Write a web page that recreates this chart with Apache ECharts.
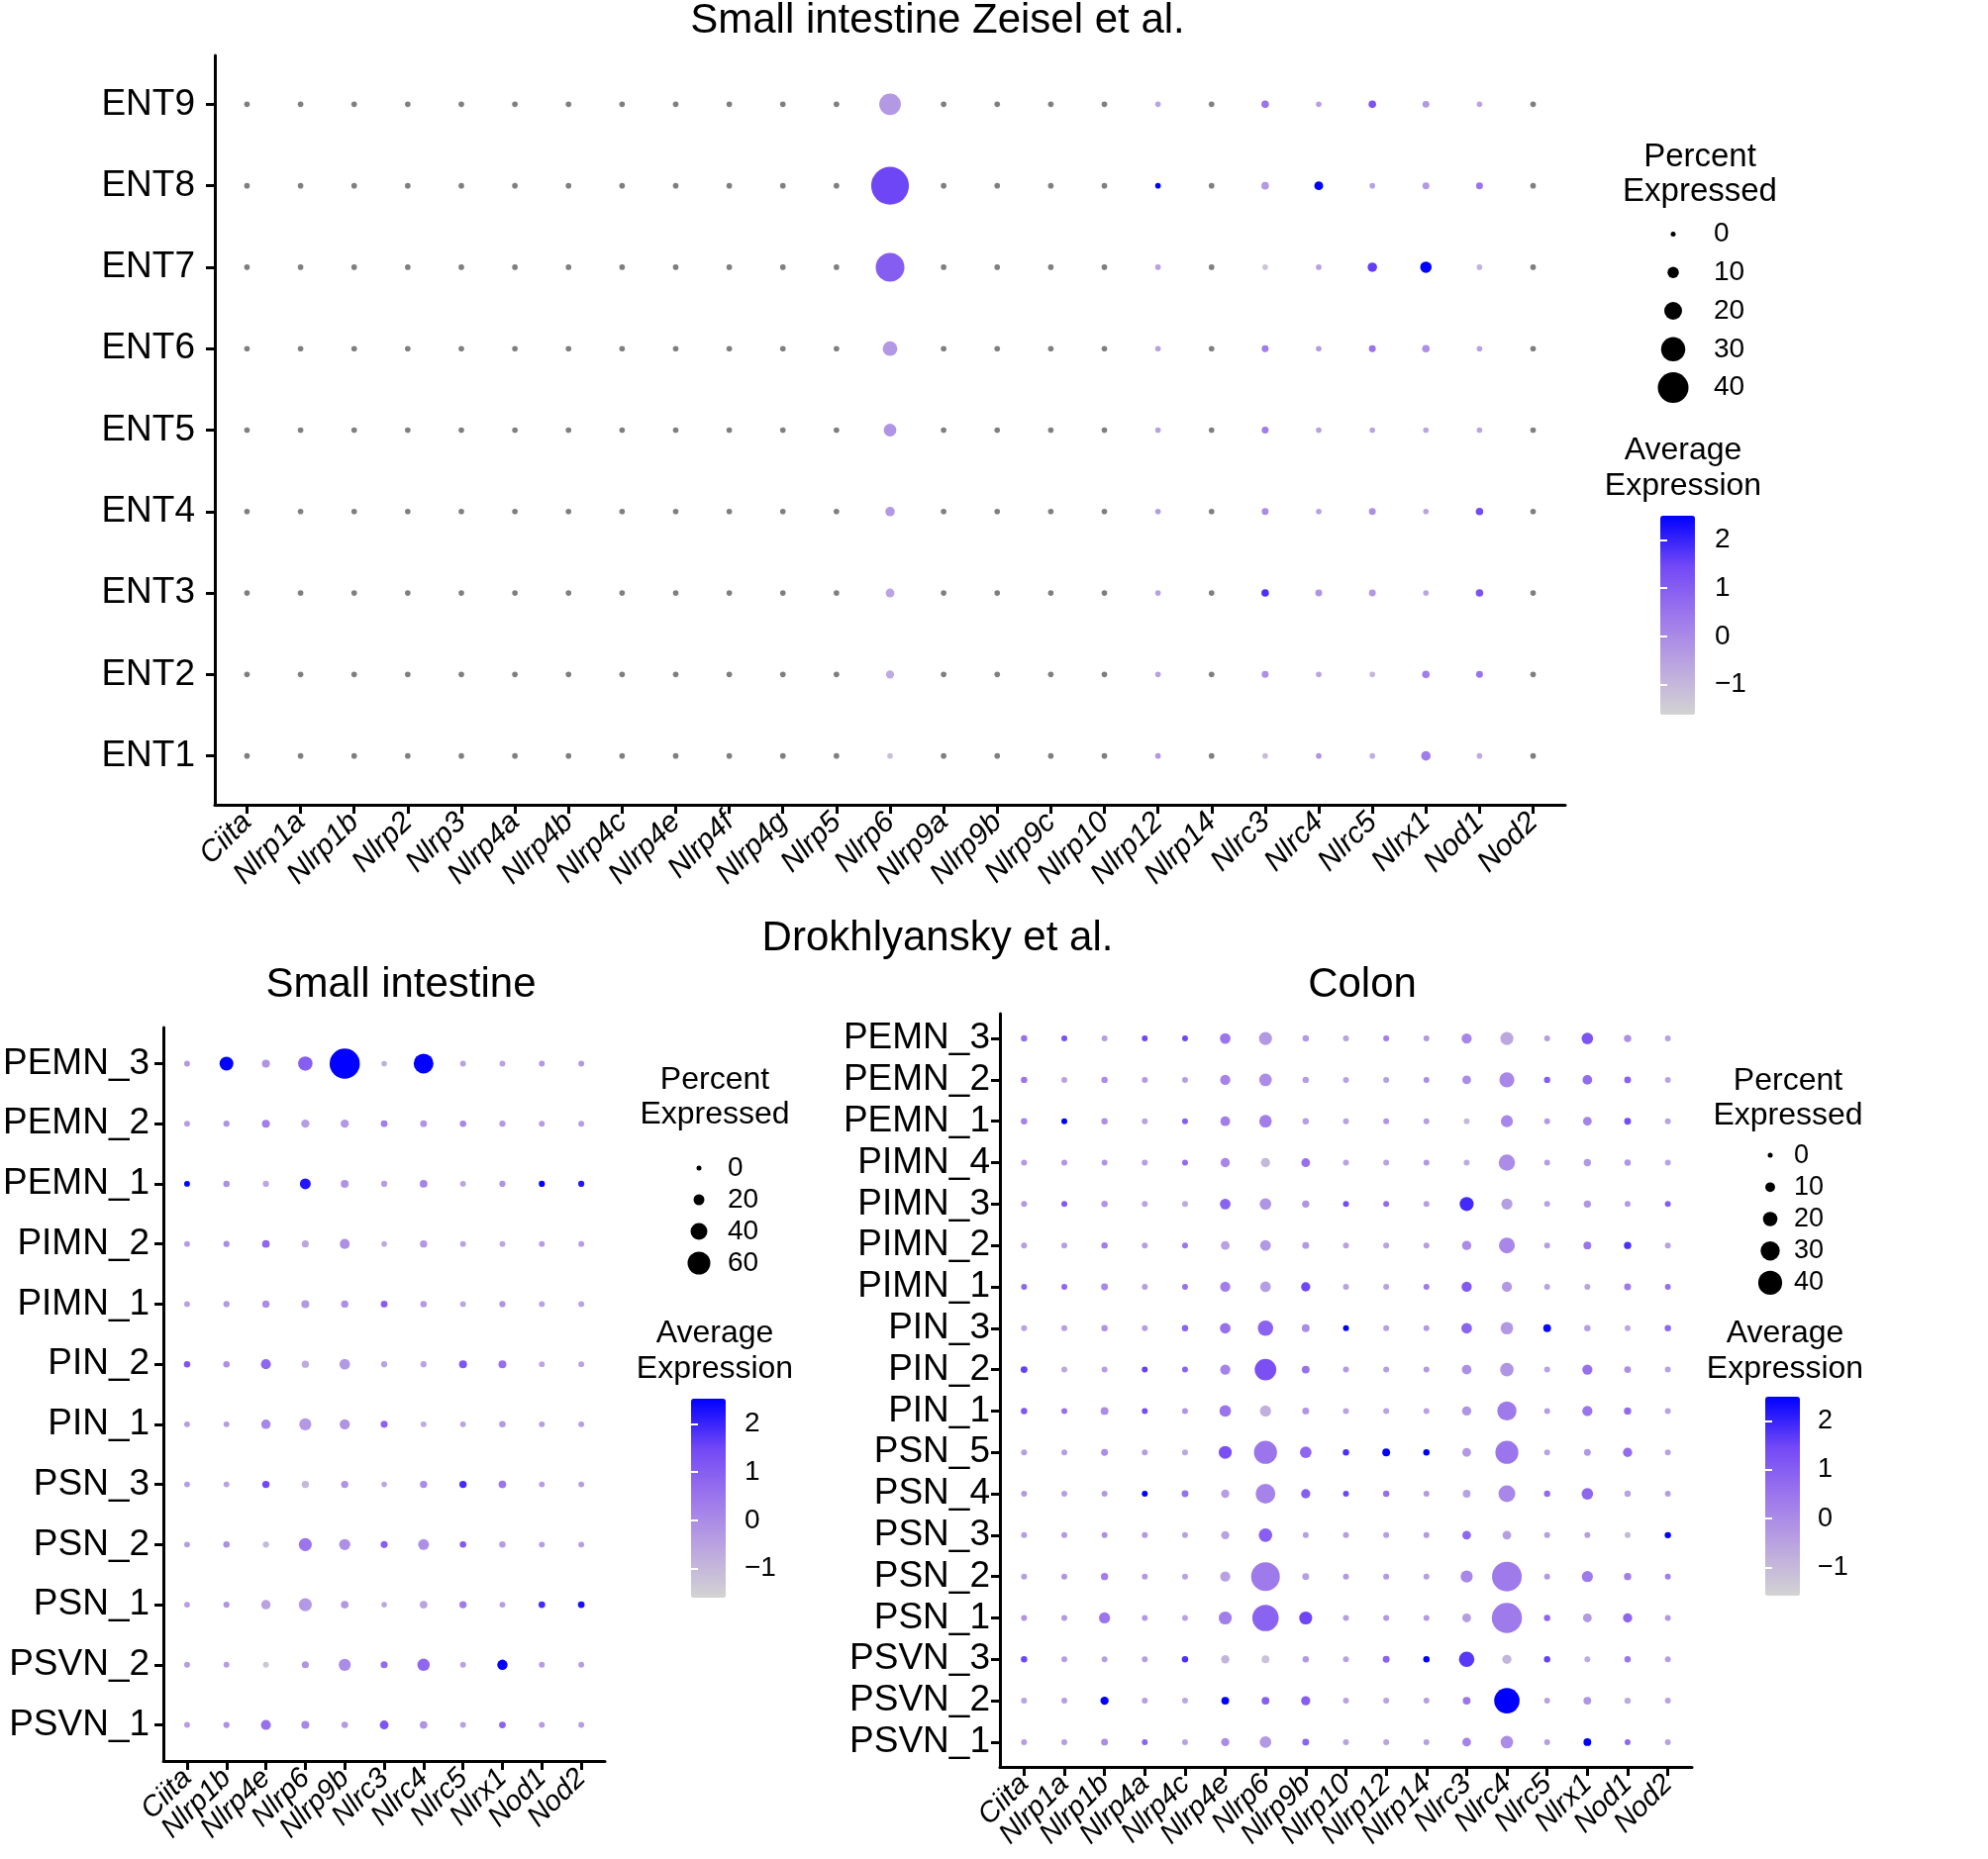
<!DOCTYPE html>
<html>
<head>
<meta charset="utf-8">
<title>NLR expression dot plots</title>
<script src="https://cdn.jsdelivr.net/npm/echarts@6/dist/echarts.min.js"></script>
<style>
  html, body { margin: 0; padding: 0; background: #fff; }
  #chart { width: 2008px; height: 1878px; }
</style>
</head>
<body>
<div id="chart"></div>
<script>
const N = null; // gene not detected -> grey dot

// ---- Zeisel et al. small intestine ----
const zeiselGenes = ["Ciita", "Nlrp1a", "Nlrp1b", "Nlrp2", "Nlrp3", "Nlrp4a", "Nlrp4b", "Nlrp4c", "Nlrp4e", "Nlrp4f",
    "Nlrp4g", "Nlrp5", "Nlrp6", "Nlrp9a", "Nlrp9b", "Nlrp9c", "Nlrp10", "Nlrp12", "Nlrp14", "Nlrc3", "Nlrc4", "Nlrc5",
    "Nlrx1", "Nod1", "Nod2"];
const zeiselRows = ["ENT9", "ENT8", "ENT7", "ENT6", "ENT5", "ENT4", "ENT3", "ENT2", "ENT1"];
const zeiselPct = [
    [1, 1, 1, 1, 1, 1, 1, 1, 1, 1, 1, 1, 26, 1, 1, 1, 1, 1, 1, 4, 1, 4, 3, 1, 1],
    [1, 1, 1, 1, 1, 1, 1, 1, 1, 1, 1, 1, 51, 1, 1, 1, 1, 1, 1, 4, 6, 1, 3, 3, 1],
    [1, 1, 1, 1, 1, 1, 1, 1, 1, 1, 1, 1, 37, 1, 1, 1, 1, 1, 1, 1, 1, 7, 10, 1, 1],
    [1, 1, 1, 1, 1, 1, 1, 1, 1, 1, 1, 1, 15, 1, 1, 1, 1, 1, 1, 3, 1, 3, 4, 1, 1],
    [1, 1, 1, 1, 1, 1, 1, 1, 1, 1, 1, 1, 12, 1, 1, 1, 1, 1, 1, 3, 1, 1, 1, 1, 1],
    [1, 1, 1, 1, 1, 1, 1, 1, 1, 1, 1, 1, 7, 1, 1, 1, 1, 1, 1, 3, 1, 3, 1, 4, 1],
    [1, 1, 1, 1, 1, 1, 1, 1, 1, 1, 1, 1, 6, 1, 1, 1, 1, 1, 1, 4, 3, 3, 1, 4, 1],
    [1, 1, 1, 1, 1, 1, 1, 1, 1, 1, 1, 1, 5, 1, 1, 1, 1, 1, 1, 3, 1, 1, 4, 3, 1],
    [1, 1, 1, 1, 1, 1, 1, 1, 1, 1, 1, 1, 1, 1, 1, 1, 1, 1, 1, 1, 1, 1, 7, 1, 1]
];
const zeiselAvg = [
    [N, N, N, N, N, N, N, N, N, N, N, N, -0.3, N, N, N, N, -0.6, N, 0.5, -0.5, 1.2, -0.3, -0.6, N],
    [N, N, N, N, N, N, N, N, N, N, N, N, 1.5, N, N, N, N, 2.5, N, -0.3, 2.5, -0.5, -0.3, 0.5, N],
    [N, N, N, N, N, N, N, N, N, N, N, N, 1.0, N, N, N, N, -0.5, N, -1.3, -0.5, 1.6, 2.5, -0.9, N],
    [N, N, N, N, N, N, N, N, N, N, N, N, -0.3, N, N, N, N, -0.5, N, 0.3, -0.4, 0.5, -0.1, -0.5, N],
    [N, N, N, N, N, N, N, N, N, N, N, N, -0.2, N, N, N, N, -0.5, N, 0.3, -0.5, -0.6, -0.6, -0.6, N],
    [N, N, N, N, N, N, N, N, N, N, N, N, -0.3, N, N, N, N, -0.4, N, 0.0, -0.5, -0.1, -0.6, 1.4, N],
    [N, N, N, N, N, N, N, N, N, N, N, N, -0.6, N, N, N, N, -0.5, N, 1.8, -0.2, -0.3, -0.6, 1.2, N],
    [N, N, N, N, N, N, N, N, N, N, N, N, -0.7, N, N, N, N, -0.5, N, -0.1, -0.6, -1.0, 0.3, 0.5, N],
    [N, N, N, N, N, N, N, N, N, N, N, N, -1.2, N, N, N, N, -0.3, N, -1.1, -0.2, -0.8, 0.3, -0.7, N]
];
const zeiselSizeBreaks = [0, 10, 20, 30, 40];

// ---- Drokhlyansky et al. small intestine ----
const smallGenes = ["Ciita", "Nlrp1b", "Nlrp4e", "Nlrp6", "Nlrp9b", "Nlrc3", "Nlrc4", "Nlrc5", "Nlrx1", "Nod1", "Nod2"];
const smallRows = ["PEMN_3", "PEMN_2", "PEMN_1", "PIMN_2", "PIMN_1", "PIN_2", "PIN_1", "PSN_3", "PSN_2", "PSN_1",
    "PSVN_2", "PSVN_1"];
const smallPct = [
    [3, 30, 10, 32, 85, 2, 50, 3, 3, 3, 3],
    [3, 4, 10, 11, 11, 6, 6, 5, 4, 3, 3],
    [3, 5, 4, 20, 10, 4, 9, 3, 4, 4, 4],
    [3, 4, 9, 7, 17, 2, 8, 3, 3, 3, 3],
    [3, 4, 8, 10, 8, 6, 5, 3, 4, 3, 3],
    [5, 5, 17, 8, 19, 4, 4, 10, 10, 3, 3],
    [3, 3, 15, 24, 18, 7, 3, 3, 5, 3, 3],
    [3, 3, 8, 8, 8, 2, 8, 8, 9, 3, 3],
    [3, 5, 4, 27, 21, 7, 20, 5, 5, 3, 3],
    [3, 4, 15, 27, 9, 2, 9, 8, 3, 6, 6],
    [3, 3, 3, 7, 24, 7, 25, 3, 18, 3, 3],
    [3, 4, 17, 10, 5, 13, 9, 3, 6, 3, 3]
];
const smallAvg = [
    [-0.3, 2.5, -0.2, 1.0, 2.5, -0.8, 2.5, -0.5, -0.5, -0.3, -0.3],
    [-0.4, -0.2, 0.3, -0.4, -0.3, 0.3, -0.2, 0.1, -0.3, -0.4, -0.4],
    [2.5, -0.1, -0.6, 2.2, -0.2, -0.4, 0.2, -0.6, -0.2, 2.5, 2.2],
    [-0.4, 0.0, 0.8, -0.6, -0.1, -0.7, -0.3, -0.5, -0.6, -0.4, -0.4],
    [-0.5, -0.3, 0.0, -0.3, -0.1, 1.0, -0.3, -0.6, -0.2, -0.5, -0.5],
    [1.2, -0.1, 0.8, -0.7, -0.3, -0.5, -0.5, 1.2, 0.6, -0.6, -0.5],
    [-0.4, -0.4, 0.1, -0.3, -0.2, 0.9, -0.7, -0.5, -0.3, -0.4, -0.4],
    [-0.4, -0.5, 1.5, -1.0, -0.2, -0.6, 0.0, 1.9, 0.5, -0.4, -0.4],
    [-0.4, -0.1, -1.0, 0.5, -0.1, 1.0, -0.1, 1.1, -0.4, -0.4, -0.4],
    [-0.4, -0.2, -0.5, -0.3, -0.3, -0.6, -0.5, 0.4, -0.4, 1.9, 2.3],
    [-0.4, -0.4, -1.3, -0.2, 0.0, 0.7, 0.8, -0.5, 2.5, -0.4, -0.4],
    [-0.4, -0.1, 0.6, 0.1, -0.3, 1.2, -0.2, -0.5, 0.9, -0.4, -0.4]
];
const smallSizeBreaks = [0, 20, 40, 60];

// ---- Drokhlyansky et al. colon ----
const colonGenes = ["Ciita", "Nlrp1a", "Nlrp1b", "Nlrp4a", "Nlrp4c", "Nlrp4e", "Nlrp6", "Nlrp9b", "Nlrp10", "Nlrp12",
    "Nlrp14", "Nlrc3", "Nlrc4", "Nlrc5", "Nlrx1", "Nod1", "Nod2"];
const colonRows = ["PEMN_3", "PEMN_2", "PEMN_1", "PIMN_4", "PIMN_3", "PIMN_2", "PIMN_1", "PIN_3", "PIN_2", "PIN_1",
    "PSN_5", "PSN_4", "PSN_3", "PSN_2", "PSN_1", "PSVN_3", "PSVN_2", "PSVN_1"];
const colonPct = [
    [3, 2, 2, 2, 2, 12, 17, 3, 2, 2, 2, 11, 17, 2, 14, 5, 2],
    [3, 2, 3, 2, 2, 11, 16, 3, 2, 2, 2, 8, 21, 3, 10, 4, 2],
    [3, 2, 3, 2, 2, 10, 16, 3, 2, 2, 2, 2, 15, 2, 8, 4, 2],
    [2, 2, 2, 2, 2, 9, 9, 8, 2, 2, 2, 2, 24, 2, 5, 3, 2],
    [2, 2, 3, 2, 2, 12, 14, 5, 2, 2, 2, 19, 13, 2, 5, 2, 2],
    [2, 2, 3, 2, 2, 8, 12, 4, 2, 2, 2, 9, 23, 2, 6, 5, 2],
    [2, 2, 4, 2, 2, 11, 12, 9, 2, 2, 2, 11, 11, 2, 2, 4, 2],
    [2, 2, 3, 2, 3, 12, 22, 6, 2, 2, 2, 12, 16, 6, 3, 2, 3],
    [4, 2, 2, 2, 2, 11, 35, 6, 2, 2, 2, 10, 18, 2, 11, 4, 2],
    [3, 2, 6, 2, 2, 14, 13, 4, 2, 2, 2, 9, 30, 2, 11, 5, 2],
    [2, 2, 4, 2, 2, 17, 38, 14, 3, 6, 3, 8, 38, 2, 4, 9, 2],
    [2, 2, 2, 2, 4, 7, 31, 9, 2, 3, 2, 6, 25, 3, 14, 3, 2],
    [2, 2, 2, 2, 2, 7, 18, 2, 2, 2, 2, 8, 8, 2, 2, 2, 3],
    [2, 2, 5, 2, 2, 11, 50, 4, 2, 2, 2, 15, 52, 2, 13, 5, 2],
    [2, 2, 13, 2, 2, 17, 45, 17, 2, 2, 2, 8, 53, 3, 8, 9, 2],
    [3, 2, 2, 2, 3, 7, 6, 3, 2, 4, 3, 22, 9, 3, 2, 3, 2],
    [2, 2, 7, 2, 2, 6, 6, 9, 2, 2, 2, 6, 43, 2, 6, 3, 2],
    [2, 2, 4, 2, 2, 7, 14, 4, 2, 2, 2, 8, 16, 2, 6, 2, 2]
];
const colonAvg = [
    [0.6, 1.3, -0.4, 1.5, 1.5, 0.5, -0.3, -0.3, -0.5, 0.3, -0.3, 0.1, -0.6, -0.4, 1.2, -0.1, -0.5],
    [0.5, -0.5, 0.0, -0.3, -0.4, 0.2, 0.0, -0.4, -0.5, -0.4, 0.0, 0.0, 0.1, 1.0, 0.7, 0.9, -0.5],
    [0.2, 2.5, -0.1, -0.5, 1.0, 0.3, 0.3, -0.4, -0.5, -0.2, -0.4, -1.0, 0.1, -0.3, 0.2, 1.4, -0.5],
    [-0.3, -0.2, -0.2, -0.4, 0.7, 0.1, -1.0, 0.6, -0.5, -0.5, -0.3, -0.7, 0.0, -0.4, -0.3, -0.2, -0.5],
    [-0.3, 1.1, -0.2, -0.5, -0.7, 0.9, -0.2, -0.2, 1.4, 0.7, -0.4, 1.9, -0.4, -0.5, -0.2, -0.3, 1.0],
    [-0.4, -0.4, 0.3, -0.4, 0.5, -0.5, -0.3, -0.3, -0.5, -0.5, -0.4, 0.0, 0.1, -0.4, 0.5, 1.8, -0.5],
    [0.8, 0.8, 0.1, -0.4, 0.6, 0.3, -0.4, 1.5, -0.5, -0.5, 0.4, 1.1, -0.3, -0.5, -0.5, 0.4, 0.6],
    [-0.5, -0.4, -0.2, -0.4, 0.9, 0.6, 0.9, 0.0, 2.5, -0.4, -0.3, 0.9, -0.3, 2.4, -0.4, -0.6, 0.8],
    [1.6, -0.6, -0.4, 1.6, 0.9, 0.2, 1.3, 0.6, -0.3, -0.4, -0.3, -0.1, -0.2, -0.5, 0.6, -0.1, -0.5],
    [1.2, 0.6, 0.0, 1.4, -0.2, 0.5, -0.8, -0.2, -0.5, -0.5, -0.5, -0.2, 0.4, -0.4, 0.5, 0.7, -0.5],
    [-0.4, -0.4, 0.0, -0.4, -0.6, 1.3, 0.5, 0.8, 1.8, 2.5, 2.5, -0.3, 0.5, -0.5, -0.3, 0.7, -0.5],
    [-0.3, -0.4, -0.3, 2.5, 0.6, -0.4, 0.2, 1.0, 1.5, 0.6, -0.3, -0.5, 0.1, 0.7, 0.8, -0.5, -0.4],
    [-0.4, -0.3, -0.1, -0.3, -0.5, -0.5, 1.0, -0.4, -0.4, -0.4, -0.3, 0.8, -0.4, -0.4, -0.4, -1.0, 2.5],
    [-0.4, -0.2, 0.3, -0.3, -0.5, -0.5, 0.4, -0.4, -0.3, -0.3, -0.4, 0.1, 0.4, -0.3, 0.4, 0.3, 0.3],
    [-0.2, -0.3, 0.5, -0.3, -0.5, 0.3, 0.9, 1.5, -0.4, -0.3, -0.3, -0.4, 0.4, 0.8, -0.3, 0.8, -0.3],
    [1.5, -0.4, -0.4, -0.4, 1.8, -0.9, -1.2, -0.3, -0.5, 0.9, 2.5, 1.7, -0.9, 1.6, -0.7, 0.5, -0.4],
    [-0.5, -0.4, 2.5, -0.4, -0.6, 2.5, 1.0, 1.0, -0.5, -0.5, -0.4, 0.5, 2.5, -0.5, -0.2, -0.7, -0.5],
    [-0.4, -0.4, 0.0, 0.9, -0.5, 0.0, -0.3, 0.9, -0.5, -0.5, -0.4, 0.2, 0.0, -0.4, 2.5, 0.8, -0.5]
];
const colonSizeBreaks = [0, 10, 20, 30, 40];

const colorTicks = [-1, 0, 1, 2];

// styling
const FONT = "Liberation Sans, Arial, Helvetica, sans-serif";
const colorStops = ["#D3D3D3", "#BBA5E0", "#9D77EC", "#7248F6", "#0000FF"];
const naColor = "#7F7F7F";
const zeiselSize = p => 5 + 0.65 * p;
const smallSize = p => 5 + 0.3 * p;
const colonSize = p => 5 + 0.48 * p;

function seq(n) {
    return Array.from({length: n}, (_, i) => i);
}

// split a panel into colored points [x, y, pct, avg] and grey ones [x, y, pct]
function panelPoints(pct, avg) {
    let colored = [], grey = [];
    let n = pct.length;
    pct.forEach((row, i) => row.forEach((p, j) => {
        let a = avg[i][j];
        if (a === null) grey.push([j, n - 1 - i, p]);
        else colored.push([j, n - 1 - i, p, a]);
    }));
    return {colored, grey};
}

function minusLabel(v) {
    return v < 0 ? "\u2212" + Math.abs(v) : String(v);
}

const blackLine = {color: "#000", width: 3};

// gene axis; labels are split over two axes (even / odd) so that the
// rotated labels are never dropped by the overlap check
function geneLabels(names, parity, fontSize) {
    return {
        customValues: seq(names.length).filter(i => i % 2 === parity), formatter: v => names[Math.round(v)],
        showMinLabel: true, showMaxLabel: true, hideOverlap: false,
        rotate: 45, fontStyle: "italic", fontSize: fontSize, fontFamily: FONT, color: "#000", margin: 13
    };
}

function mainX(grid, names, fontSize) {
    return {
        type: "value", gridIndex: grid, min: -0.6, max: names.length - 0.4, position: "bottom",
        axisLine: {show: true, onZero: false, lineStyle: blackLine},
        axisTick: {show: true, customValues: seq(names.length), length: 9, lineStyle: blackLine},
        axisLabel: geneLabels(names, 0, fontSize),
        splitLine: {show: false}
    };
}

function oddX(grid, names, fontSize) {
    return {
        type: "value", gridIndex: grid, min: -0.6, max: names.length - 0.4, position: "bottom", offset: 0,
        axisLine: {show: false, onZero: false}, axisTick: {show: false},
        axisLabel: geneLabels(names, 1, fontSize),
        splitLine: {show: false}
    };
}

function mainY(grid, names, fontSize, margin) {
    let n = names.length;
    return {
        type: "value", gridIndex: grid, min: -0.6, max: n - 0.4,
        axisLine: {show: true, onZero: false, lineStyle: blackLine},
        axisTick: {show: true, customValues: seq(n), length: 9, lineStyle: blackLine},
        axisLabel: {
            customValues: seq(n), formatter: v => names[n - 1 - Math.round(v)],
            showMinLabel: true, showMaxLabel: true, hideOverlap: false,
            fontSize: fontSize, fontFamily: FONT, color: "#000", margin: margin
        },
        splitLine: {show: false}
    };
}

function legendX(grid) {
    return {type: "value", gridIndex: grid, min: 0, max: 1, show: false};
}

function legendY(grid, breaks, fontSize, margin) {
    return {
        type: "value", gridIndex: grid, min: -0.5, max: breaks.length - 0.5, inverse: true, position: "right",
        axisLine: {show: false}, axisTick: {show: false}, splitLine: {show: false},
        axisLabel: {
            customValues: seq(breaks.length), formatter: v => String(breaks[Math.round(v)]),
            showMinLabel: true, showMaxLabel: true,
            fontSize: fontSize, fontFamily: FONT, color: "#000", margin: margin
        }
    };
}

function barY(grid, vmin, vmax, side, fontSize, margin) {
    return {
        type: "value", gridIndex: grid, min: vmin, max: vmax, position: side, z: 10,
        axisLine: {show: false}, splitLine: {show: false},
        axisTick: {show: true, inside: true, customValues: colorTicks, length: 7, lineStyle: {color: "#fff", width: 2}},
        axisLabel: {
            show: side === "right", customValues: colorTicks, formatter: minusLabel,
            fontSize: fontSize, fontFamily: FONT, color: "#000", margin: margin
        }
    };
}

function colorMap(seriesIndex, vmin, vmax, left, top, width, height) {
    return {
        type: "continuous", seriesIndex: seriesIndex, dimension: 3, min: vmin, max: vmax,
        calculable: false, hoverLink: false, padding: 0, left: left, top: top,
        itemWidth: width, itemHeight: height, inRange: {color: colorStops}
    };
}

function dotSeries(grid, data, sizeFn, color) {
    let s = {
        type: "scatter", xAxisIndex: grid, yAxisIndex: grid, data: data, symbol: "circle",
        symbolSize: v => sizeFn(v[2]), silent: true, emphasis: {disabled: true},
        itemStyle: {opacity: 1}
    };
    if (color) s.itemStyle.color = color;
    return s;
}

function text(x, y, str, size, lineHeight) {
    return {
        type: "text", x: x, y: y, silent: true,
        style: {
            text: str, fontSize: size, fontFamily: FONT, fill: "#000",
            align: "center", textAlign: "center", verticalAlign: "top", textVerticalAlign: "top",
            lineHeight: lineHeight || size
        }
    };
}

let zeisel = panelPoints(zeiselPct, zeiselAvg);
let small = panelPoints(smallPct, smallAvg);
let colon = panelPoints(colonPct, colonAvg);

let chart = echarts.init(document.getElementById("chart"));
let option = {
    backgroundColor: "#fff",
    animation: false,
    grid: [
        {left: 217, top: 56, width: 1364, height: 757},     // zeisel
        {left: 165, top: 1038, width: 446, height: 741},    // small intestine
        {left: 1010, top: 1024, width: 699, height: 761},   // colon
        {left: 1670, top: 217, width: 40, height: 194},     // size legends
        {left: 686, top: 1164, width: 40, height: 128},
        {left: 1768, top: 1151, width: 40, height: 161},
        {left: 1677, top: 521, width: 35, height: 201},     // color bars
        {left: 698, top: 1413, width: 35, height: 201},
        {left: 1783, top: 1411, width: 35, height: 201}
    ],
    xAxis: [
        mainX(0, zeiselGenes, 30), mainX(1, smallGenes, 29), mainX(2, colonGenes, 29),
        legendX(3), legendX(4), legendX(5), legendX(6), legendX(7), legendX(8),
        oddX(0, zeiselGenes, 30), oddX(1, smallGenes, 29), oddX(2, colonGenes, 29)
    ],
    yAxis: [
        mainY(0, zeiselRows, 37, 20), mainY(1, smallRows, 37, 14), mainY(2, colonRows, 37, 10),
        legendY(3, zeiselSizeBreaks, 28, 21), legendY(4, smallSizeBreaks, 28, 9), legendY(5, colonSizeBreaks, 27, 4),
        barY(6, -1.62, 2.5, "right", 28, 20), barY(7, -1.6, 2.52, "right", 28, 19), barY(8, -1.58, 2.5, "right", 27, 18),
        barY(6, -1.62, 2.5, "left"), barY(7, -1.6, 2.52, "left"), barY(8, -1.58, 2.5, "left")
    ],
    visualMap: [
        colorMap(0, -1.62, 2.5, 1677, 521, 35, 201),
        colorMap(2, -1.6, 2.52, 698, 1413, 35, 201),
        colorMap(3, -1.58, 2.5, 1783, 1411, 35, 201)
    ],
    series: [
        dotSeries(0, zeisel.colored, zeiselSize),
        dotSeries(0, zeisel.grey, zeiselSize, naColor),
        dotSeries(1, small.colored, smallSize),
        dotSeries(2, colon.colored, colonSize),
        dotSeries(3, zeiselSizeBreaks.map((b, i) => [0.5, i, b]), zeiselSize, "#000"),
        dotSeries(4, smallSizeBreaks.map((b, i) => [0.5, i, b]), smallSize, "#000"),
        dotSeries(5, colonSizeBreaks.map((b, i) => [0.5, i, b]), colonSize, "#000")
    ],
    graphic: [
        text(947, 0, "Small intestine Zeisel et al.", 42),
        text(947, 927, "Drokhlyansky et al.", 42),
        text(405, 974, "Small intestine", 42),
        text(1376, 974, "Colon", 42),
        text(1717, 141, "Percent\nExpressed", 33, 35),
        text(1700, 437, "Average\nExpression", 32, 36),
        text(722, 1074, "Percent\nExpressed", 32, 35),
        text(722, 1329, "Average\nExpression", 32, 36),
        text(1806, 1075, "Percent\nExpressed", 32, 35),
        text(1803, 1329, "Average\nExpression", 32, 36)
    ]
};
chart.setOption(option);
</script>
</body>
</html>
